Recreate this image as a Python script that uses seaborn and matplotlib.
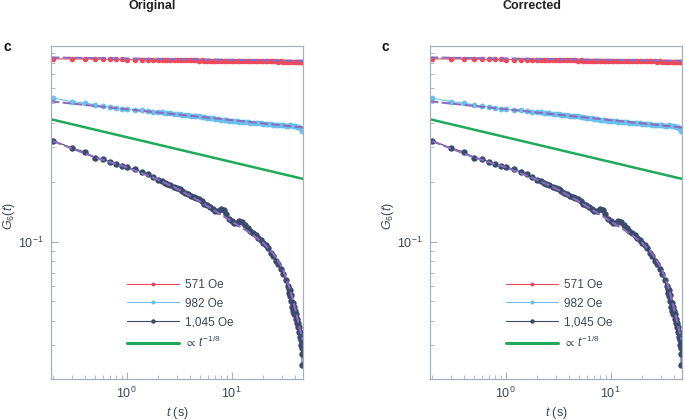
import matplotlib
matplotlib.use("Agg")
import matplotlib.pyplot as plt
import matplotlib.ticker as mticker
import seaborn as sns

# time stamps (s) shared by the 571 Oe and 982 Oe traces
t_obs = [0.2, 0.3, 0.4, 0.5, 0.6, 0.7, 0.8, 0.9, 1.0,
         1.2, 1.4, 1.6, 1.8, 2.0,
         2.15, 2.3, 2.45, 2.6, 2.8, 3.0, 3.2, 3.4, 3.6, 3.85, 4.1, 4.35, 4.6, 4.9,
         5.2, 5.5, 5.85, 6.2, 6.6, 7.0, 7.4, 7.9, 8.4, 8.9, 9.4, 10.0,
         10.6, 11.2, 11.9, 12.6, 13.4, 14.2, 15.0, 16.0, 17.0, 18.0, 19.0, 20.0,
         21.2, 22.4, 23.7, 25.0, 26.5, 28.0, 29.5, 31.0, 32.7, 34.5, 36.3, 38.2,
         40.2, 42.3, 44.4, 46.0, 47.0]

g_571 = [0.840, 0.838, 0.839, 0.836, 0.837, 0.835, 0.836, 0.834, 0.833,
         0.833, 0.831, 0.832, 0.830, 0.830,
         0.829, 0.830, 0.828, 0.829, 0.827, 0.828, 0.826, 0.827, 0.826, 0.825, 0.826, 0.824, 0.825, 0.823,
         0.824, 0.823, 0.822, 0.823, 0.821, 0.822, 0.821, 0.820, 0.821, 0.819, 0.820, 0.820,
         0.819, 0.820, 0.818, 0.819, 0.818, 0.818, 0.817, 0.818, 0.817, 0.816, 0.817, 0.816,
         0.816, 0.815, 0.816, 0.815, 0.815, 0.814, 0.815, 0.814, 0.814, 0.813, 0.814, 0.813,
         0.813, 0.812, 0.813, 0.812, 0.811]

g_982 = [0.532, 0.511, 0.502, 0.492, 0.483, 0.480, 0.475, 0.471, 0.468,
         0.465, 0.461, 0.457, 0.455, 0.452,
         0.451, 0.449, 0.447, 0.446, 0.443, 0.442, 0.440, 0.438, 0.437, 0.435, 0.434, 0.432, 0.432, 0.430,
         0.428, 0.427, 0.424, 0.423, 0.420, 0.419, 0.417, 0.414, 0.413, 0.412, 0.410, 0.409,
         0.408, 0.406, 0.405, 0.403, 0.403, 0.401, 0.400, 0.399, 0.398, 0.397, 0.397, 0.395,
         0.395, 0.393, 0.393, 0.391, 0.390, 0.390, 0.388, 0.388, 0.386, 0.385, 0.387, 0.384,
         0.383, 0.382, 0.380, 0.372, 0.364]

t_1045 = [0.2, 0.3, 0.4, 0.5, 0.6, 0.7, 0.8, 0.9, 1.0,
          1.2, 1.4, 1.6, 1.8, 2.0,
          2.15, 2.3, 2.45, 2.6, 2.8, 3.0, 3.2, 3.4, 3.6, 3.85, 4.1, 4.35, 4.6, 4.9,
          5.2, 5.5, 5.85, 6.2, 6.6, 7.0, 7.4, 7.9, 8.4, 8.9, 9.4, 10.0,
          10.6, 11.2, 11.9, 12.6, 13.4, 14.2, 15.0, 16.0, 17.0, 18.0, 19.0, 20.0,
          21.2, 22.4, 23.7, 25.0, 26.5, 28.0, 29.5, 31.0, 32.7, 34.5,
          35.0, 35.5, 36.0, 36.3, 36.8, 37.2, 37.6, 38.2, 38.7, 39.2, 39.7, 40.2,
          40.8, 41.3, 41.8, 42.3, 42.9, 43.4, 43.9, 44.4, 44.9, 45.4, 45.9, 46.3,
          46.6, 46.9, 47.0]

g_1045 = [0.324, 0.298, 0.284, 0.266, 0.262, 0.252, 0.247, 0.241, 0.239,
          0.232, 0.225, 0.219, 0.212, 0.206,
          0.203, 0.199, 0.196, 0.194, 0.190, 0.188, 0.185, 0.181, 0.177, 0.174, 0.171, 0.169, 0.167, 0.164,
          0.160, 0.156, 0.153, 0.150, 0.146, 0.143, 0.143, 0.146, 0.144, 0.138, 0.131, 0.127,
          0.124, 0.125, 0.128, 0.126, 0.121, 0.117, 0.114, 0.111, 0.108, 0.104, 0.102, 0.099,
          0.096, 0.093, 0.088, 0.085, 0.080, 0.077, 0.073, 0.069, 0.064, 0.060,
          0.058, 0.055, 0.057, 0.053, 0.050, 0.054, 0.047, 0.049, 0.045, 0.047, 0.043, 0.045,
          0.041, 0.043, 0.039, 0.041, 0.037, 0.039, 0.035, 0.037, 0.033, 0.035, 0.030, 0.032,
          0.027, 0.029, 0.024]

# dashed fits
t_fit_571 = [0.19, 48.0]
g_fit_571 = [0.853, 0.821]
t_fit_982 = [0.19, 48.0]
g_fit_982 = [0.512, 0.378]
t_fit_1045 = [0.2, 0.5, 1.0, 2.0, 3.0, 5.0, 7.0, 10.0, 15.0, 20.0, 25.0, 30.0, 35.0, 40.0, 45.0, 47.5]
g_fit_1045 = [0.322, 0.267, 0.238, 0.206, 0.186, 0.160, 0.143, 0.127, 0.111, 0.099, 0.087, 0.075,
              0.061, 0.047, 0.036, 0.032]

# guide line proportional to t^-1/8
t_guide = [0.19, 48.0]
g_guide = [0.416, 0.208]

panel_titles = ["Original", "Corrected"]

RED = "#EE4A5C"
BLUE = "#6BC0EC"
NAVY = "#3A4A6D"
GREEN = "#1EAA58"
PURPLE = "#8C6CBE"
TEXT = "#3C4656"
SPINE = "#A7B0BA"

sns.set_theme(style="white")
plt.rcParams["font.family"] = ["Liberation Sans", "DejaVu Sans"]
plt.rcParams["mathtext.fontset"] = "custom"
plt.rcParams["mathtext.rm"] = "Liberation Sans"
plt.rcParams["mathtext.it"] = "Liberation Sans:italic"
plt.rcParams["mathtext.fallback"] = "stixsans"
plt.rcParams["text.color"] = TEXT
plt.rcParams["axes.labelcolor"] = TEXT

fig = plt.figure(figsize=(6.85, 4.2), dpi=100)

for i, title in enumerate(panel_titles):
    x0 = 51 + 379 * i
    ax = fig.add_axes([x0 / 685, 41 / 420, 252 / 685, 333 / 420])

    sns.lineplot(x=t_obs, y=g_571, ax=ax, color=RED, linewidth=0.8, marker="o",
                 markersize=4.0, markeredgewidth=0, estimator=None, sort=False, label="571 Oe")
    sns.lineplot(x=t_obs, y=g_982, ax=ax, color=BLUE, linewidth=0.8, marker="o",
                 markersize=4.2, markeredgewidth=0, estimator=None, sort=False, label="982 Oe")
    sns.lineplot(x=t_1045, y=g_1045, ax=ax, color=NAVY, linewidth=0.8, marker="o",
                 markersize=4.6, markeredgewidth=0, estimator=None, sort=False, label="1,045 Oe")
    sns.lineplot(x=t_guide, y=g_guide, ax=ax, color=GREEN, linewidth=1.8,
                 estimator=None, sort=False, label=r"$\propto\,t^{-1/8}$")
    for tf, gf in [(t_fit_571, g_fit_571), (t_fit_982, g_fit_982), (t_fit_1045, g_fit_1045)]:
        sns.lineplot(x=tf, y=gf, ax=ax, color=PURPLE, linewidth=1.5, linestyle=(0, (4, 1.6)),
                     estimator=None, sort=False, legend=False)

    ax.set_xscale("log")
    ax.set_yscale("log")
    ax.set_xlim(0.19, 48)
    ax.set_ylim(0.0203, 0.975)

    ax.yaxis.set_minor_formatter(mticker.NullFormatter())
    ax.xaxis.set_minor_formatter(mticker.NullFormatter())
    ax.tick_params(which="both", direction="in", colors=SPINE, labelcolor=TEXT,
                   labelsize=9, top=False, right=False, left=True, bottom=True, pad=5)
    ax.tick_params(which="major", length=5, width=0.8)
    ax.tick_params(which="minor", length=3, width=0.6)
    for s in ax.spines.values():
        s.set_color(SPINE)
        s.set_linewidth(0.9)

    ax.set_xlabel("$t$ (s)", fontsize=9)
    ax.set_ylabel("$G_6(t)$", fontsize=9)
    ax.xaxis.set_label_coords(0.5, -0.078)
    ax.yaxis.set_label_coords(-0.135, 0.49)

    leg = ax.legend(loc="upper left", bbox_to_anchor=(0.30, 0.30), frameon=False, borderpad=0,
                    borderaxespad=0, handlelength=4.4, handletextpad=0.55, labelspacing=0.55,
                    fontsize=8.5, labelcolor=TEXT, markerscale=0.7)
    leg.get_lines()[3].set_linewidth(2.2)

    fig.text((152 + 380 * i) / 685, 1 - 6 / 420, title, ha="center", va="center",
             fontsize=9, fontweight="bold", color="#222222")
    fig.text((3 + 379 * i) / 685, 1 - 47 / 420, "c", ha="left", va="center",
             fontsize=10, fontweight="bold", color="#111111")

fig.savefig("out.png", dpi=100)
